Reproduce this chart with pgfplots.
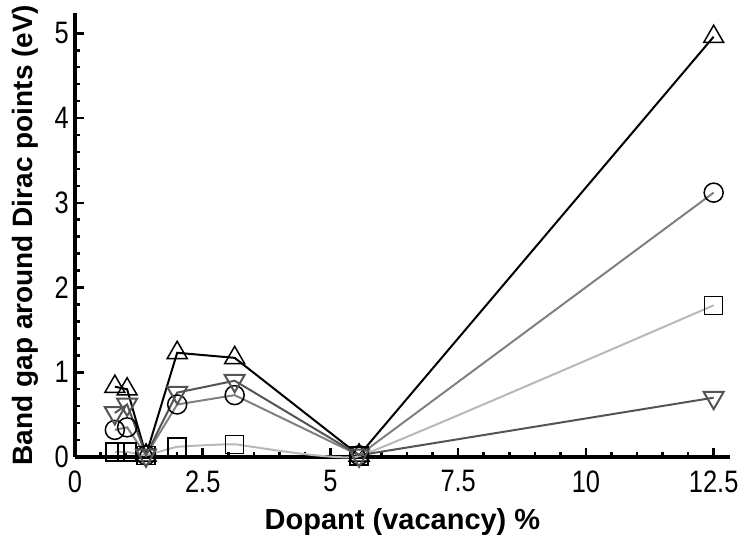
\documentclass[border=0pt]{standalone}
\usepackage{pgfplots}
\pgfplotsset{compat=1.18}
\usepackage{fontspec}
\setmainfont{Liberation Sans}
\definecolor{cCirc}{gray}{0.5}
\definecolor{cSq}{gray}{0.72}
\definecolor{cDown}{gray}{0.33}
\begin{document}
\begin{tikzpicture}
\useasboundingbox (0,0) rectangle (746pt,549pt);
\begin{axis}[
 at={(75pt,92pt)}, anchor=south west,
 scale only axis, width=655pt, height=444pt,
 xmin=0, xmax=12.82, ymin=0, ymax=5.24,
 axis x line=bottom, axis y line=left,
 axis line style={-, line width=3.2pt},
 xtick={0,2.5,5,7.5,10,12.5}, xticklabels={0,2.5,5,7.5,10,12.5},
 ytick={0,1,2,3,4,5},
 minor x tick num=4, minor y tick num=4,
 tick align=inside, major tick length=9pt, minor tick length=5pt,
 tick style={line width=2.5pt, black},
 ticklabel style={font=\fontsize{31}{34}\selectfont, xscale=0.82},
 xticklabel style={yshift=-10pt},
 yticklabel style={xshift=-4pt},
 /pgf/number format/assume math mode=true,
 clip=false,
 xlabel={Dopant (vacancy) \%},
 ylabel={Band gap around Dirac points (eV)},
 xlabel style={font=\bfseries\fontsize{29}{32}\selectfont, at={(axis description cs:0.5,-0.146)}, anchor=center},
 ylabel style={font=\bfseries\fontsize{28}{32}\selectfont, at={(axis description cs:-0.076,0.5)}, anchor=center},
 every axis plot/.append style={line width=2pt},
 mark options={solid, draw=black, fill=none, line width=1.5pt},
]
\addplot[color=black, mark=triangle, mark size=11.5pt] coordinates {
(0.78,0.83) (1.02,0.80) (1.39,0.02) (2.0,1.23) (3.125,1.17) (5.56,0.02) (12.5,4.96)};
\addplot[color=cCirc, mark=o, mark size=9.5pt] coordinates {
(0.78,0.32) (1.02,0.35) (1.39,0.02) (2.0,0.62) (3.125,0.73) (5.56,0.02) (12.5,3.12)};
\addplot[color=cSq, mark=square, mark size=9pt, smooth, tension=0.15] coordinates {
(0.78,0.06) (1.02,0.06) (1.39,0.02) (2.0,0.12) (3.125,0.15) (5.56,0.01) (12.5,1.79)};
\addplot[color=cDown, mark=triangle, mark size=11.5pt, mark options={rotate=180}] coordinates {
(0.78,0.52) (1.02,0.62) (1.39,0.02) (2.0,0.76) (3.125,0.90) (5.56,0.02) (12.5,0.70)};
\end{axis}
\end{tikzpicture}
\end{document}
